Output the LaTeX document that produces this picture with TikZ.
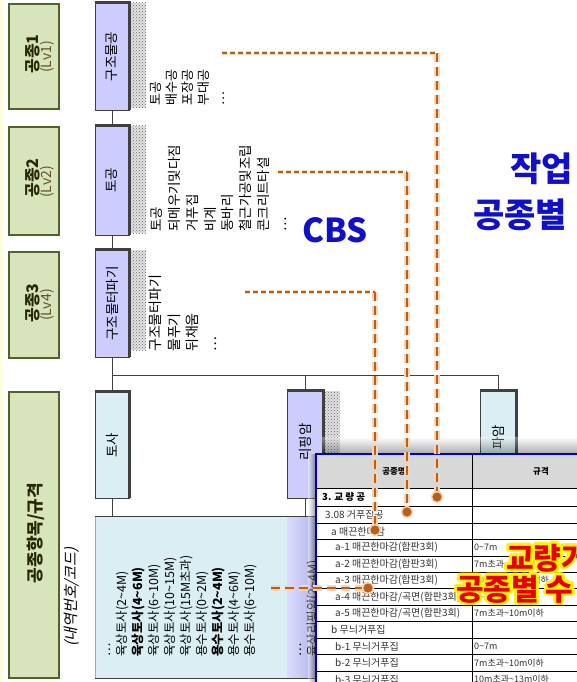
\documentclass[tikz,border=0pt]{standalone}
\usepackage{fontspec}
\setmainfont{Noto Sans CJK KR}
\newfontfamily\krit{Noto Sans CJK KR}[FakeSlant=0.22]
\usetikzlibrary{patterns}
\definecolor{lvfill}{RGB}{216,228,188}
\definecolor{lvdraw}{RGB}{79,98,40}
\definecolor{lvtext}{RGB}{40,40,0}
\definecolor{lvsub}{RGB}{95,85,35}
\definecolor{pfill}{RGB}{204,204,255}
\definecolor{pdark}{RGB}{160,160,225}
\definecolor{bfill}{RGB}{218,238,243}
\definecolor{bdark}{RGB}{64,64,64}
\definecolor{dashc}{RGB}{185,95,25}
\definecolor{glowc}{RGB}{250,212,180}
\definecolor{bigblue}{RGB}{16,16,200}
\definecolor{bigred}{RGB}{230,0,0}
\definecolor{tblue}{RGB}{0,0,204}
\definecolor{hdrgray}{RGB}{216,216,216}
\definecolor{celltext}{RGB}{50,50,50}
\newcommand{\tld}{\textasciitilde}
\newcommand{\vd}{⋯}
\begin{document}
\begin{tikzpicture}[x=1pt,y=-1pt,
  lvbox/.style={fill=lvfill,draw=lvdraw,line width=2.4pt,inner sep=0,minimum width=50pt},
  pbox/.style={fill=pfill,draw=bdark,line width=0.6pt,inner sep=0,minimum width=34pt},
  bbox/.style={fill=bfill,draw=bdark,line width=0.6pt,inner sep=0,minimum width=34pt},
  thickb/.style={bdark,line width=3pt},
  lvlbl/.style={rotate=90,inner sep=0,text=lvtext,font=\fontsize{16}{17}\selectfont\bfseries},
  lvsubl/.style={rotate=90,inner sep=0,text=lvsub,font=\fontsize{14}{15}\selectfont},
  boxlbl/.style={rotate=90,inner sep=0,font=\fontsize{13.5}{15}\selectfont,text=black},
  lst/.style={rotate=90,anchor=north west,inner sep=0,align=left,text=black},
  conn/.style={draw=bdark,line width=0.8pt},
  stipbg/.style={fill=gray!22},
  stip/.style={pattern=crosshatch dots,pattern color=gray!80!black},
  hdash/.style={dashc,line width=1.7pt,dash pattern=on 5pt off 3pt},
  hglow/.style={glowc,line width=4.2pt,dash pattern=on 5pt off 3pt},
  vdash/.style={dashc,line width=2.6pt,dash pattern=on 9pt off 5pt},
  vglow/.style={glowc,line width=5.6pt,dash pattern=on 9pt off 5pt},
  dotn/.style={circle,fill=dashc,draw=glowc,line width=1.5pt,inner sep=0,minimum size=11pt},
  cell/.style={anchor=west,inner sep=0,font=\fontsize{10}{11}\selectfont,text=celltext},
  cellb/.style={anchor=west,inner sep=0,font=\fontsize{9}{10}\selectfont,text=celltext},
  hdr/.style={inner sep=0,font=\fontsize{8.5}{10}\selectfont\bfseries,text=black},
  bluetxt/.style={anchor=base west,inner sep=0,text=bigblue,font=\fontsize{34}{40}\selectfont\bfseries},
  redtxt/.style={anchor=base west,inner sep=0,text=bigred,font=\fontsize{30}{36}\selectfont\bfseries},
  yeltxt/.style={anchor=base west,inner sep=0,text=yellow,font=\fontsize{30}{36}\selectfont\bfseries}
]
\useasboundingbox (0,0) rectangle (577,682);
\fill[white] (0,0) rectangle (577,682);
\clip (0,0) rectangle (577,682);
\fill[yellow!12] (0,0) rectangle (2.5,682);

% level boxes
\node[lvbox,minimum height=105pt] (g1) at (34,56.5) {};
\node[lvbox,minimum height=108pt] (g2) at (34,181) {};
\node[lvbox,minimum height=106pt] (g3) at (34,305) {};
\node[lvbox,minimum height=286pt] (g4) at (34,535) {};
\node[lvlbl] (g1a) at (33,54) {공종1};
\node[lvsubl] (g1b) at (47,57) {(Lv1)};
\node[lvlbl] (g2a) at (33,178) {공종2};
\node[lvsubl] (g2b) at (47,182) {(Lv2)};
\node[lvlbl] (g3a) at (33,303) {공종3};
\node[lvsubl] (g3b) at (47,305) {(Lv4)};
\node[lvlbl,font=\fontsize{17}{18}\selectfont\bfseries] (g4a) at (36,533) {공종항목/규격};
\node[rotate=90,inner sep=0,text=black,font=\krit\fontsize{15}{16}\selectfont] (g4b) at (72,597) {(내역번호/코드)};

% boxes
\coordinate (j1) at (112,375);
\node[pbox,minimum height=107pt] (b1) at (112,56.5) {};
\node[pbox,minimum height=109pt] (b2) at (112,180.5) {};
\node[pbox,minimum height=107pt] (b3) at (112,303.5) {};
\node[bbox,minimum height=106pt] (ts) at (112,445) {};
\node[pbox,minimum width=36pt,minimum height=107pt] (rp) at (305,444.5) {};
\node[bbox,minimum width=36pt,minimum height=107pt] (pa) at (498,444.5) {};
\node[fill=bfill,draw=gray!70,line width=0.6pt,minimum width=192pt,minimum height=162pt,inner sep=0] (tl) at (191,597) {};
\shade[left color=pfill!70!white,right color=pdark] (287,516) rectangle (330,678);
\draw[bdark,line width=0.8pt] (95,516) -- (330,516);
\draw[bdark,line width=0.8pt] (95,678) -- (330,678);

% connectors
\draw[conn] (b1.south) -- (b2.north);
\draw[conn] (b2.south) -- (b3.north);
\draw[conn] (b3.south) -- (ts.north);
\draw[conn] (j1) -| (pa.north);
\draw[conn] (j1 -| rp.north) -- (rp.north);
\draw[conn] (ts.south) -- (ts.south |- tl.north);
\draw[conn] (rp.south) -- (rp.south |- tl.north);

% thick top/right edges
\foreach \n in {b1,b2,b3,ts,rp,pa}{
  \draw[thickb] (\n.north west) -- (\n.north east) -- (\n.south east);
}

% stipple strips
\foreach \sa/\sb/\sc/\sd in {131/3/146/108, 131/126/146/233, 131/250/146/350, 325/391/340/455}{
  \fill[stipbg] (\sa,\sb) rectangle (\sc,\sd);
  \fill[stip] (\sa,\sb) rectangle (\sc,\sd);
}

% box labels
\node[boxlbl] (b1t) at (b1) {구조물공};
\node[boxlbl] (b2t) at (b2) {토공};
\node[boxlbl] (b3t) at (b3) {구조물터파기};
\node[boxlbl] (tst) at (ts) {토사};
\node[boxlbl] (rpt) at (305,442) {리핑암};
\node[boxlbl] (pat) at (498,437) {파암};

% lists
\node[lst,font=\fontsize{13}{16}\selectfont] (l1) at (150,106) {토공\\배수공\\포장공\\부대공\\\vd};
\node[lst,font=\fontsize{13.5}{17.8}\selectfont] (l2) at (151,232) {토공\\되메우기및다짐\\거푸집\\비계\\동바리\\철근가공및조립\\콘크리트타설\\\vd};
\node[lst,font=\fontsize{14}{18.5}\selectfont] (l3) at (149,352) {구조물터파기\\물푸기\\뒤채움\\\vd};
\node[lst,font=\fontsize{12.5}{16}\selectfont] (l4) at (100,657) {\vphantom{육}\vd\\육상토사(2\tld4M)\\\textbf{육상토사(4\tld6M)}\\육상토사(6\tld10M)\\육상토사(10\tld15M)\\육상토사(15M초과)\\용수토사(0\tld2M)\\\textbf{용수토사(2\tld4M)}\\용수토사(4\tld6M)\\용수토사(6\tld10M)};
\node[lst,font=\fontsize{12.5}{16}\selectfont] (l5) at (291,657) {\vphantom{육}\vd\\육상리핑암(2\tld4M)};

% table shadow
\shade[top color=white,bottom color=black,opacity=0.33] (322,437) rectangle (585,454);
\shade[left color=white,right color=black,opacity=0.4] (308,454) rectangle (316,690);

% table
\fill[white] (316,454) rectangle (585,690);
\fill[hdrgray] (316,454) rectangle (585,488);
\foreach \yy in {488,506.6,523.05,539.5,555.95,572.4,588.85,605.3,621.75,638.2,654.65,671.1}
  \draw[black,line width=0.8pt] (316,\yy) -- (585,\yy);
\draw[black,line width=0.8pt] (472,454) -- (472,690);
\draw[tblue,line width=1.8pt] (316,690) -- (316,454) -- (585,454);
\node[hdr] (h1) at (394,471) {공종명};
\node[hdr] (h2) at (541,471) {규격};
\node[cell,text=black,font=\fontsize{9.6}{11}\selectfont\bfseries] (r1) at (322,497.3) {3. 교 량 공};
\node[cell] (r2) at (325,514.8) {3.08 거푸집공};
\node[cell] (r3) at (331,531.3) {a 매끈한마감};
\node[cell] (r4) at (335,547.7) {a-1 매끈한마감(합판3회)};
\node[cell] (r5) at (335,564.2) {a-2 매끈한마감(합판3회)};
\node[cell] (r6) at (335,580.6) {a-3 매끈한마감(합판3회)};
\node[cell] (r7) at (335,597.1) {a-4 매끈한마감/곡면(합판3회)};
\node[cell] (r8) at (335,613.5) {a-5 매끈한마감/곡면(합판3회)};
\node[cell] (r9) at (331,630) {b 무늬거푸집};
\node[cell] (r10) at (335,646.4) {b-1 무늬거푸집};
\node[cell] (r11) at (335,662.9) {b-2 무늬거푸집};
\node[cell] (r12) at (335,679.3) {b-3 무늬거푸집};
\node[cellb] (s4) at (474,547.7) {0\tld7m};
\node[cellb] (s5) at (474,564.2) {7m초과\tld10m이하};
\node[cellb] (s6) at (474,580.6) {10m초과\tld13m이하};
\node[cellb] (s7) at (474,597.1) {0\tld7m};
\node[cellb] (s8) at (474,613.5) {7m초과\tld10m이하};
\node[cellb] (s10) at (474,646.4) {0\tld7m};
\node[cellb] (s11) at (474,662.9) {7m초과\tld10m이하};
\node[cellb] (s12) at (474,679.3) {10m초과\tld13m이하};

% dashed links
\coordinate (a0) at (222,53);  \coordinate (a1) at (437,53);  \coordinate (ad) at (437,497);
\coordinate (b0) at (278,172); \coordinate (bc) at (407,172); \coordinate (bd) at (407,512);
\coordinate (c0) at (245,292); \coordinate (c1) at (375,292); \coordinate (cd) at (375,530);
\coordinate (d0) at (271,588); \coordinate (dd) at (368,588);
\draw[hglow] (a0) -- (a1); \draw[vglow] (a1) -- (ad);
\draw[hglow] (b0) -- (bc); \draw[vglow] (bc) -- (bd);
\draw[hglow] (c0) -- (c1); \draw[vglow] (c1) -- (cd);
\draw[vglow] (d0) -- (dd);
\draw[hdash] (a0) -- (a1); \draw[vdash] (a1) -- (ad);
\draw[hdash] (b0) -- (bc); \draw[vdash] (bc) -- (bd);
\draw[hdash] (c0) -- (c1); \draw[vdash] (c1) -- (cd);
\draw[vdash] (d0) -- (dd);
\node[dotn] (adn) at (ad) {};
\node[dotn] (bdn) at (bd) {};
\node[dotn] (cdn) at (cd) {};
\node[dotn] (ddn) at (dd) {};

% big labels
\node[inner sep=0,text=bigblue,font=\fontsize{33}{38}\selectfont\bfseries] (cbs) at (335,230) {CBS};
\node[bluetxt] (w1) at (510,181) {작업};
\node[bluetxt] (w2) at (473,227) {공종별};
\foreach \a in {0,30,...,330}{
  \node[yeltxt] at ([shift={(\a:2.9)}]506,569) {교량거};
  \node[yeltxt] at ([shift={(\a:2.9)}]456,600) {공종별 수};
}
\node[redtxt] (q1) at (506,569) {교량거};
\node[redtxt] (q2) at (456,600) {공종별 수};
\end{tikzpicture}
\end{document}
